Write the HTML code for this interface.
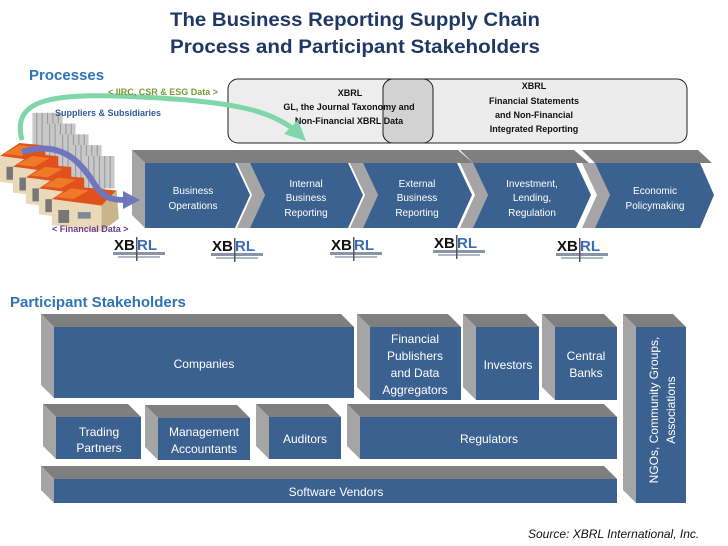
<!DOCTYPE html>
<html><head><meta charset="utf-8"><style>
html,body{margin:0;padding:0;background:#fff;}
svg{display:block;font-family:"Liberation Sans",sans-serif;}
</style></head><body>
<svg width="728" height="546" viewBox="0 0 728 546" xmlns="http://www.w3.org/2000/svg">
<defs>
<g id="xbrl">
<rect x="0" y="0" width="58" height="26" fill="#fff"/>
<text x="4" y="15" font-size="15" font-weight="bold" fill="#111" font-family="Liberation Sans,sans-serif">XB</text>
<text x="27" y="15" font-size="15" font-weight="bold" fill="#3b6cb4" font-family="Liberation Sans,sans-serif">RL</text>
<rect x="3" y="17" width="52" height="3" fill="#8a94a8"/>
<rect x="8" y="21" width="42" height="2" fill="#b0b8c8"/>
<rect x="26" y="2" width="1.5" height="24" fill="#555"/>
</g>
<g id="fac">
<rect x="30" y="-28" width="28" height="30" fill="#c8c8c8"/>
<g stroke="#999" stroke-width="1"><line x1="34" y1="-28" x2="34" y2="2"/><line x1="39" y1="-28" x2="39" y2="2"/><line x1="44" y1="-28" x2="44" y2="2"/><line x1="49" y1="-28" x2="49" y2="2"/><line x1="54" y1="-28" x2="54" y2="2"/></g>
<polygon points="0,12 18,0 60,4 46,18" fill="#e0521c"/>
<polygon points="4,10 18,2 34,4 20,12" fill="#f07a2a"/>
<polygon points="0,12 46,18 46,42 0,36" fill="#ead9b8"/>
<polygon points="46,18 60,4 62,30 46,42" fill="#c9b48c"/>
<rect x="6" y="22" width="10" height="12" fill="#777"/>
<rect x="24" y="24" width="12" height="6" fill="#7a8a9a"/>
</g>
</defs>

<text x="170" y="26" font-size="19" font-weight="bold" fill="#1f3864" textLength="370" lengthAdjust="spacingAndGlyphs">The Business Reporting Supply Chain</text>
<text x="170" y="53" font-size="19" font-weight="bold" fill="#1f3864" textLength="370" lengthAdjust="spacingAndGlyphs">Process and Participant Stakeholders</text>

<text x="29" y="80" font-size="15" font-weight="bold" fill="#2e74b5">Processes</text>

<rect x="228" y="79" width="205" height="64" rx="10" fill="#ededed" stroke="#222" stroke-width="1"/>
<rect x="383" y="79" width="304" height="64" rx="10" fill="#ececec" stroke="#222" stroke-width="1"/>
<path d="M393,79 H423 a10,10 0 0 1 10,10 V133 a10,10 0 0 1 -10,10 H393 a10,10 0 0 1 -10,-10 V89 a10,10 0 0 1 10,-10z" fill="#d2d2d2" stroke="#222"/>
<g font-size="9" font-weight="bold" fill="#111" text-anchor="middle">
<text x="350" y="96">XBRL</text>
<text x="349" y="110">GL, the Journal Taxonomy and</text>
<text x="349" y="124">Non-Financial XBRL Data</text>
<text x="534" y="89">XBRL</text>
<text x="534" y="104">Financial Statements</text>
<text x="534" y="118">and Non-Financial</text>
<text x="534" y="132">Integrated Reporting</text>
</g>

<g>
<polygon points="132,150 240,150 255,163 145,163" fill="#7f7f7f"/>
<polygon points="132,150 145,163 145,228 132,215" fill="#a5a5a5"/>
<polygon points="145,163 235,163 250,195 235,228 145,228" fill="#3a6190"/>
<polygon points="237,150 350,150 365,163 250,163" fill="#7f7f7f"/>
<polygon points="237,163 250,163 265,195 250,228 237,228 252,195" fill="#a5a5a5"/>
<polygon points="250,163 348,163 363,195 348,228 250,228 265,195" fill="#3a6190"/>
<polygon points="350,150 458,150 473,163 363,163" fill="#7f7f7f"/>
<polygon points="350,163 363,163 378,195 363,228 350,228 365,195" fill="#a5a5a5"/>
<polygon points="363,163 457,163 472,195 457,228 363,228 378,195" fill="#3a6190"/>
<polygon points="460,150 574,150 589,163 473,163" fill="#7f7f7f"/>
<polygon points="460,163 473,163 488,195 473,228 460,228 475,195" fill="#a5a5a5"/>
<polygon points="473,163 576,163 591,195 576,228 473,228 488,195" fill="#3a6190"/>
<polygon points="582,150 698,150 712,163 595,163" fill="#7f7f7f"/>
<polygon points="582,163 595,163 610,195 595,228 582,228 597,195" fill="#a5a5a5"/>
<polygon points="595,163 700,163 714,195 700,228 595,228 610,195" fill="#3a6190"/>
</g>
<g font-size="10" fill="#fff" text-anchor="middle">
<text x="193" y="194">Business</text><text x="193" y="209">Operations</text>
<text x="306" y="187">Internal</text><text x="306" y="201">Business</text><text x="306" y="216">Reporting</text>
<text x="417" y="187">External</text><text x="417" y="201">Business</text><text x="417" y="216">Reporting</text>
<text x="532" y="187">Investment,</text><text x="532" y="201">Lending,</text><text x="532" y="216">Regulation</text>
<text x="655" y="194">Economic</text><text x="655" y="209">Policymaking</text>
</g>

<g transform="translate(0,143) scale(1.08)">
<use href="#fac" x="0" y="0"/>
<use href="#fac" x="12" y="10"/>
<use href="#fac" x="24" y="20"/>
<use href="#fac" x="36" y="30"/>
<use href="#fac" x="48" y="40"/>
</g>

<path d="M22,140 C10,95 60,92 160,98 C240,103 270,112 292,128" fill="none" stroke="#7fd6a8" stroke-width="5"/>
<polygon points="284,134 306,141 298,120" fill="#7fd6a8"/>
<path d="M22,152 C60,140 80,160 95,185 C105,200 115,200 125,200" fill="none" stroke="#6f76bd" stroke-width="6"/>
<polygon points="123,191 140,200 123,209" fill="#6f76bd"/>

<text x="108" y="95" font-size="9" font-weight="bold" fill="#7a9a3a">&lt; IIRC, CSR &amp; ESG Data &gt;</text>
<text x="55" y="116" font-size="9" font-weight="bold" fill="#2e5c9a">Suppliers &amp; Subsidiaries</text>
<text x="52" y="232" font-size="9" font-weight="bold" fill="#6a3a8a">&lt; Financial Data &gt;</text>

<use href="#xbrl" x="110" y="235"/>
<use href="#xbrl" x="208" y="236"/>
<use href="#xbrl" x="327" y="235"/>
<use href="#xbrl" x="430" y="233"/>
<use href="#xbrl" x="553" y="236"/>

<text x="10" y="307" font-size="15" font-weight="bold" fill="#2e74b5">Participant Stakeholders</text>

<g>
<polygon points="41,314 341,314 354,327 54,327" fill="#7f7f7f"/><polygon points="41,314 54,327 54,398 41,385" fill="#a5a5a5"/><rect x="54" y="327" width="300" height="71" fill="#3a6190"/>
<polygon points="357,314 448,314 461,327 370,327" fill="#7f7f7f"/><polygon points="357,314 370,327 370,400 357,387" fill="#a5a5a5"/><rect x="370" y="327" width="91" height="73" fill="#3a6190"/>
<polygon points="463,314 526,314 539,327 476,327" fill="#7f7f7f"/><polygon points="463,314 476,327 476,400 463,387" fill="#a5a5a5"/><rect x="476" y="327" width="63" height="73" fill="#3a6190"/>
<polygon points="542,314 604,314 617,327 555,327" fill="#7f7f7f"/><polygon points="542,314 555,327 555,400 542,387" fill="#a5a5a5"/><rect x="555" y="327" width="62" height="73" fill="#3a6190"/>
<polygon points="43,404 128,404 141,417 56,417" fill="#7f7f7f"/><polygon points="43,404 56,417 56,459 43,446" fill="#a5a5a5"/><rect x="56" y="417" width="85" height="42" fill="#3a6190"/>
<polygon points="145,405 237,405 250,418 158,418" fill="#7f7f7f"/><polygon points="145,405 158,418 158,460 145,447" fill="#a5a5a5"/><rect x="158" y="418" width="92" height="42" fill="#3a6190"/>
<polygon points="256,404 328,404 341,417 269,417" fill="#7f7f7f"/><polygon points="256,404 269,417 269,459 256,446" fill="#a5a5a5"/><rect x="269" y="417" width="72" height="42" fill="#3a6190"/>
<polygon points="347,404 604,404 617,417 360,417" fill="#7f7f7f"/><polygon points="347,404 360,417 360,459 347,446" fill="#a5a5a5"/><rect x="360" y="417" width="257" height="42" fill="#3a6190"/>
<polygon points="41,466 604,466 617,479 54,479" fill="#7f7f7f"/><polygon points="41,466 54,479 54,503 41,490" fill="#a5a5a5"/><rect x="54" y="479" width="563" height="24" fill="#3a6190"/>
<polygon points="623,314 673,314 686,327 636,327" fill="#7f7f7f"/><polygon points="623,314 636,327 636,503 623,490" fill="#a5a5a5"/><rect x="636" y="327" width="50" height="176" fill="#3a6190"/>
</g>
<g font-size="12" fill="#fff" text-anchor="middle">
<text x="204" y="368">Companies</text>
<text x="415" y="343">Financial</text><text x="415" y="360">Publishers</text><text x="415" y="377">and Data</text><text x="415" y="394">Aggregators</text>
<text x="508" y="369">Investors</text>
<text x="586" y="360">Central</text><text x="586" y="377">Banks</text>
<text x="99" y="436">Trading</text><text x="99" y="452">Partners</text>
<text x="204" y="436">Management</text><text x="204" y="453">Accountants</text>
<text x="305" y="443">Auditors</text>
<text x="489" y="443">Regulators</text>
<text x="336" y="496">Software Vendors</text>
<text transform="translate(658,410) rotate(-90)">NGOs, Community Groups,</text>
<text transform="translate(675,410) rotate(-90)">Associations</text>
</g>

<text x="528" y="538" font-size="12" font-style="italic" fill="#111">Source: XBRL International, Inc.</text>
</svg>
</body></html>
